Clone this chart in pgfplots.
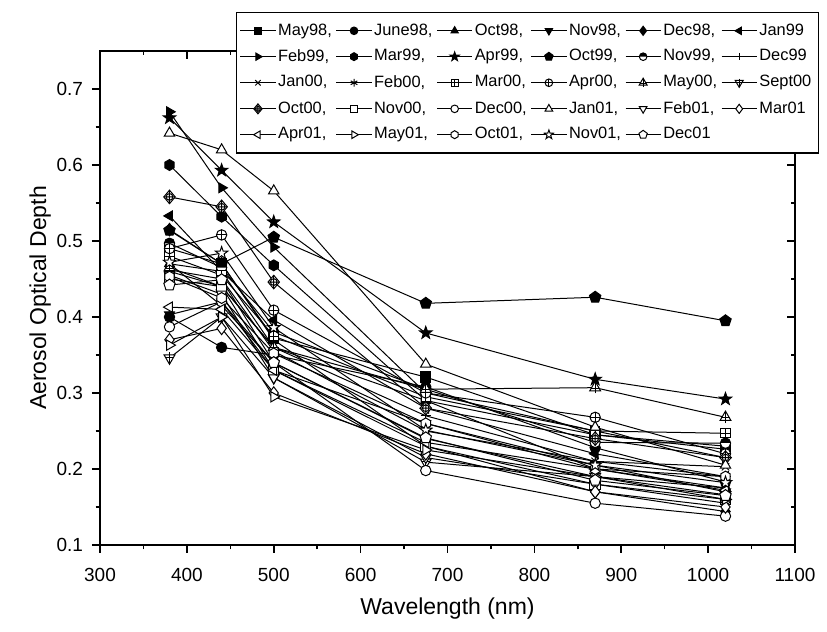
\documentclass[border=0pt]{standalone}
\usepackage{pgfplots}
\pgfplotsset{compat=1.18}
\usepackage{fontspec}
\setmainfont{Liberation Sans}
\usetikzlibrary{plotmarks,calc}

\pgfdeclareplotmark{hexa}{%
  \pgfpathmoveto{\pgfpointpolar{90}{1.05\pgfplotmarksize}}%
  \pgfpathlineto{\pgfpointpolar{150}{1.05\pgfplotmarksize}}%
  \pgfpathlineto{\pgfpointpolar{210}{1.05\pgfplotmarksize}}%
  \pgfpathlineto{\pgfpointpolar{270}{1.05\pgfplotmarksize}}%
  \pgfpathlineto{\pgfpointpolar{330}{1.05\pgfplotmarksize}}%
  \pgfpathlineto{\pgfpointpolar{30}{1.05\pgfplotmarksize}}%
  \pgfpathclose\pgfusepathqfillstroke}
\pgfdeclareplotmark{fstar}{%
  \pgfpathmoveto{\pgfpointpolar{90}{1.25\pgfplotmarksize}}%
  \pgfpathlineto{\pgfpointpolar{126}{0.5\pgfplotmarksize}}%
  \pgfpathlineto{\pgfpointpolar{162}{1.25\pgfplotmarksize}}%
  \pgfpathlineto{\pgfpointpolar{198}{0.5\pgfplotmarksize}}%
  \pgfpathlineto{\pgfpointpolar{234}{1.25\pgfplotmarksize}}%
  \pgfpathlineto{\pgfpointpolar{270}{0.5\pgfplotmarksize}}%
  \pgfpathlineto{\pgfpointpolar{306}{1.25\pgfplotmarksize}}%
  \pgfpathlineto{\pgfpointpolar{342}{0.5\pgfplotmarksize}}%
  \pgfpathlineto{\pgfpointpolar{18}{1.25\pgfplotmarksize}}%
  \pgfpathlineto{\pgfpointpolar{54}{0.5\pgfplotmarksize}}%
  \pgfpathclose\pgfusepathqfillstroke}
\pgfdeclareplotmark{sqplus}{%
  \pgfpathrectangle{\pgfpoint{-0.9\pgfplotmarksize}{-0.9\pgfplotmarksize}}{\pgfpoint{1.8\pgfplotmarksize}{1.8\pgfplotmarksize}}%
  \pgfusepathqfillstroke
  \pgfpathmoveto{\pgfpoint{-0.9\pgfplotmarksize}{0pt}}\pgfpathlineto{\pgfpoint{0.9\pgfplotmarksize}{0pt}}%
  \pgfpathmoveto{\pgfpoint{0pt}{-0.9\pgfplotmarksize}}\pgfpathlineto{\pgfpoint{0pt}{0.9\pgfplotmarksize}}%
  \pgfusepathqstroke}
\pgfdeclareplotmark{triplus}{%
  \pgfpathmoveto{\pgfpointpolar{90}{1.2\pgfplotmarksize}}%
  \pgfpathlineto{\pgfpointpolar{210}{1.2\pgfplotmarksize}}%
  \pgfpathlineto{\pgfpointpolar{330}{1.2\pgfplotmarksize}}%
  \pgfpathclose\pgfusepathqfillstroke
  \pgfpathmoveto{\pgfpoint{0pt}{-1.1\pgfplotmarksize}}\pgfpathlineto{\pgfpoint{0pt}{1.2\pgfplotmarksize}}%
  \pgfpathmoveto{\pgfpoint{-0.8\pgfplotmarksize}{-0.1\pgfplotmarksize}}\pgfpathlineto{\pgfpoint{0.8\pgfplotmarksize}{-0.1\pgfplotmarksize}}%
  \pgfusepathqstroke}
\pgfdeclareplotmark{dtriplus}{%
  \pgfpathmoveto{\pgfpointpolar{270}{1.2\pgfplotmarksize}}%
  \pgfpathlineto{\pgfpointpolar{30}{1.2\pgfplotmarksize}}%
  \pgfpathlineto{\pgfpointpolar{150}{1.2\pgfplotmarksize}}%
  \pgfpathclose\pgfusepathqfillstroke
  \pgfpathmoveto{\pgfpoint{0pt}{1.1\pgfplotmarksize}}\pgfpathlineto{\pgfpoint{0pt}{-1.2\pgfplotmarksize}}%
  \pgfpathmoveto{\pgfpoint{-0.8\pgfplotmarksize}{0.1\pgfplotmarksize}}\pgfpathlineto{\pgfpoint{0.8\pgfplotmarksize}{0.1\pgfplotmarksize}}%
  \pgfusepathqstroke}
\pgfdeclareplotmark{diaoplus}{%
  \pgfpathmoveto{\pgfpoint{0pt}{1.3\pgfplotmarksize}}%
  \pgfpathlineto{\pgfpoint{-1.1\pgfplotmarksize}{0pt}}%
  \pgfpathlineto{\pgfpoint{0pt}{-1.3\pgfplotmarksize}}%
  \pgfpathlineto{\pgfpoint{1.1\pgfplotmarksize}{0pt}}%
  \pgfpathclose\pgfusepathqfillstroke
  \pgfpathcircle{\pgfpoint{0pt}{0pt}}{0.65\pgfplotmarksize}%
  \pgfpathmoveto{\pgfpoint{-1.1\pgfplotmarksize}{0pt}}\pgfpathlineto{\pgfpoint{1.1\pgfplotmarksize}{0pt}}%
  \pgfpathmoveto{\pgfpoint{0pt}{-1.3\pgfplotmarksize}}\pgfpathlineto{\pgfpoint{0pt}{1.3\pgfplotmarksize}}%
  \pgfusepathqstroke}
\pgfdeclareplotmark{ocplus}{%
  \pgfpathcircle{\pgfpoint{0pt}{0pt}}{\pgfplotmarksize}%
  \pgfusepathqfillstroke
  \pgfpathmoveto{\pgfpoint{-\pgfplotmarksize}{0pt}}\pgfpathlineto{\pgfpoint{\pgfplotmarksize}{0pt}}%
  \pgfpathmoveto{\pgfpoint{0pt}{-\pgfplotmarksize}}\pgfpathlineto{\pgfpoint{0pt}{\pgfplotmarksize}}%
  \pgfusepathqstroke}

\begin{document}
\begin{tikzpicture}
\begin{axis}[
  name=frame,
  scale only axis, width=347.5pt, height=247pt,
  xmin=300, xmax=1100, ymin=0.1, ymax=0.75,
  xtick={300,400,500,600,700,800,900,1000,1100},
  ytick={0.1,0.2,0.3,0.4,0.5,0.6,0.7},
  minor x tick num=1, minor y tick num=1,
  tick align=inside, xtick pos=top, ytick pos=right,
  major tick length=4pt, minor tick length=2.2pt,
  every tick/.style={black, line width=0.8pt},
  axis line style={line width=0.9pt},
  xticklabels={}, yticklabels={},
]
\end{axis}
\begin{axis}[
  name=main,
  at={(frame.south west)}, anchor=south west,
  scale only axis, width=347.5pt, height=247pt,
  xmin=300, xmax=1100, ymin=0.1, ymax=0.75,
  xtick={300,400,500,600,700,800,900,1000,1100},
  ytick={0.1,0.2,0.3,0.4,0.5,0.6,0.7},
  minor x tick num=1, minor y tick num=1,
  tick align=outside, xtick pos=bottom, ytick pos=left,
  major tick length=4pt, minor tick length=2.2pt,
  every tick/.style={black, line width=0.8pt},
  axis line style={line width=0.9pt},
  /pgf/number format/assume math mode=true,
  yticklabel style={/pgf/number format/.cd, fixed, fixed zerofill, precision=1},
  xticklabel style={/pgf/number format/.cd, fixed, 1000 sep={}},
  xticklabel shift=4pt, yticklabel shift=1pt,
  tick label style={font=\fontsize{9.5}{11}\selectfont},
  xlabel={Wavelength (nm)}, ylabel={Aerosol Optical Depth},
  label style={font=\fontsize{11.5}{13}\selectfont},
  xlabel style={at={(axis description cs:0.5,-0.128)}, anchor=center},
  ylabel style={at={(axis description cs:-0.086,0.5)}, anchor=center},
  every axis plot/.append style={black, solid, line width=0.5pt, mark size=2.6pt},
  legend columns=6,
  legend cell align=left,
  legend style={at={(0.196,1.079)}, anchor=north west, draw=black, fill=white, line width=0.6pt,
    font=\fontsize{8.2}{10}\selectfont, inner xsep=1.5pt, inner ysep=3.5pt,
    row sep=1.6pt,
    /tikz/every even column/.append style={column sep=0pt},
    /tikz/every odd column/.append style={column sep=-1pt}},
  legend image post style={mark size=1.9pt},
  legend image code/.code={\draw[mark repeat=2,mark phase=2] plot coordinates {(0cm,0cm) (0.31cm,0cm) (0.62cm,0cm)};},
]
\addplot[mark=square*, mark options={solid, fill=black}] coordinates {(380,0.490) (440,0.470) (500,0.372) (675,0.321) (870,0.245) (1020,0.226)};
\addlegendentry{May98,}
\addplot[mark=*, mark options={solid, fill=black}] coordinates {(380,0.400) (440,0.360) (500,0.350) (675,0.308) (870,0.228) (1020,0.183)};
\addlegendentry{June98,}
\addplot[mark=triangle*, mark options={solid, fill=black, scale=1.1}] coordinates {(380,0.470) (440,0.460) (500,0.360) (675,0.290) (870,0.200) (1020,0.175)};
\addlegendentry{Oct98,}
\addplot[mark=triangle*, mark options={solid, fill=black, rotate=180, scale=1.1}] coordinates {(380,0.403) (440,0.420) (500,0.330) (675,0.260) (870,0.205) (1020,0.170)};
\addlegendentry{Nov98,}
\addplot[mark=diamond*, mark options={solid, fill=black, scale=1.2}] coordinates {(380,0.515) (440,0.470) (500,0.370) (675,0.230) (870,0.170) (1020,0.144)};
\addlegendentry{Dec98,}
\addplot[mark=triangle*, mark options={solid, fill=black, rotate=90, scale=1.1}] coordinates {(380,0.533) (440,0.460) (500,0.396) (675,0.280) (870,0.220) (1020,0.190)};
\addlegendentry{Jan99}
\addplot[mark=triangle*, mark options={solid, fill=black, rotate=-90, scale=1.1}] coordinates {(380,0.670) (440,0.570) (500,0.492) (675,0.300) (870,0.250) (1020,0.215)};
\addlegendentry{Feb99,}
\addplot[mark=hexa, mark options={solid, fill=black}] coordinates {(380,0.600) (440,0.532) (500,0.468) (675,0.290) (870,0.245) (1020,0.230)};
\addlegendentry{Mar99,}
\addplot[mark=fstar, mark options={solid, fill=black}] coordinates {(380,0.662) (440,0.593) (500,0.525) (675,0.379) (870,0.318) (1020,0.292)};
\addlegendentry{Apr99,}
\addplot[mark=pentagon*, mark options={solid, fill=black, scale=1.15}] coordinates {(380,0.514) (440,0.470) (500,0.505) (675,0.418) (870,0.426) (1020,0.395)};
\addlegendentry{Oct99,}
\addplot[mark=halfcircle*, mark options={solid, fill=black}] coordinates {(380,0.497) (440,0.465) (500,0.380) (675,0.305) (870,0.235) (1020,0.234)};
\addlegendentry{Nov99,}
\addplot[mark=+, mark options={solid}] coordinates {(380,0.460) (440,0.440) (500,0.360) (675,0.270) (870,0.210) (1020,0.190)};
\addlegendentry{Dec99}
\addplot[mark=x, mark options={solid}] coordinates {(380,0.462) (440,0.450) (500,0.355) (675,0.250) (870,0.210) (1020,0.203)};
\addlegendentry{Jan00,}
\addplot[mark=asterisk, mark options={solid}] coordinates {(380,0.470) (440,0.415) (500,0.340) (675,0.240) (870,0.190) (1020,0.175)};
\addlegendentry{Feb00,}
\addplot[mark=sqplus, mark options={solid, fill=white}] coordinates {(380,0.480) (440,0.455) (500,0.375) (675,0.295) (870,0.250) (1020,0.247)};
\addlegendentry{Mar00,}
\addplot[mark=ocplus, mark options={solid, fill=white}] coordinates {(380,0.490) (440,0.508) (500,0.409) (675,0.300) (870,0.268) (1020,0.220)};
\addlegendentry{Apr00,}
\addplot[mark=triplus, mark options={solid, fill=white}] coordinates {(380,0.465) (440,0.440) (500,0.360) (675,0.305) (870,0.307) (1020,0.268)};
\addlegendentry{May00,}
\addplot[mark=dtriplus, mark options={solid, fill=white}] coordinates {(380,0.346) (440,0.400) (500,0.320) (675,0.209) (870,0.190) (1020,0.166)};
\addlegendentry{Sept00}
\addplot[mark=diaoplus, mark options={solid, fill=white}] coordinates {(380,0.558) (440,0.545) (500,0.446) (675,0.280) (870,0.240) (1020,0.215)};
\addlegendentry{Oct00,}
\addplot[mark=square*, mark options={solid, fill=white}] coordinates {(380,0.450) (440,0.440) (500,0.330) (675,0.230) (870,0.180) (1020,0.160)};
\addlegendentry{Nov00,}
\addplot[mark=*, mark options={solid, fill=white}] coordinates {(380,0.387) (440,0.420) (500,0.340) (675,0.198) (870,0.155) (1020,0.138)};
\addlegendentry{Dec00,}
\addplot[mark=triangle*, mark options={solid, fill=white, scale=1.15}] coordinates {(380,0.642) (440,0.620) (500,0.566) (675,0.338) (870,0.255) (1020,0.205)};
\addlegendentry{Jan01,}
\addplot[mark=triangle*, mark options={solid, fill=white, rotate=180, scale=1.15}] coordinates {(380,0.455) (440,0.430) (500,0.320) (675,0.215) (870,0.180) (1020,0.155)};
\addlegendentry{Feb01,}
\addplot[mark=diamond*, mark options={solid, fill=white, scale=1.2}] coordinates {(380,0.370) (440,0.385) (500,0.300) (675,0.220) (870,0.170) (1020,0.150)};
\addlegendentry{Mar01}
\addplot[mark=triangle*, mark options={solid, fill=white, rotate=90, scale=1.15}] coordinates {(380,0.413) (440,0.410) (500,0.330) (675,0.235) (870,0.200) (1020,0.172)};
\addlegendentry{Apr01,}
\addplot[mark=triangle*, mark options={solid, fill=white, rotate=-90, scale=1.15}] coordinates {(380,0.363) (440,0.400) (500,0.295) (675,0.225) (870,0.190) (1020,0.160)};
\addlegendentry{May01,}
\addplot[mark=hexa, mark options={solid, fill=white}] coordinates {(380,0.453) (440,0.425) (500,0.352) (675,0.260) (870,0.200) (1020,0.190)};
\addlegendentry{Oct01,}
\addplot[mark=fstar, mark options={solid, fill=white}] coordinates {(380,0.472) (440,0.484) (500,0.386) (675,0.251) (870,0.205) (1020,0.182)};
\addlegendentry{Nov01,}
\addplot[mark=pentagon*, mark options={solid, fill=white, scale=1.15}] coordinates {(380,0.442) (440,0.449) (500,0.340) (675,0.241) (870,0.185) (1020,0.165)};
\addlegendentry{Dec01}
\end{axis}
\pgfresetboundingbox
\path[use as bounding box] ($(main.south west)+(-50pt,-43.5pt)$) rectangle ++(413.5pt,316pt);
\end{tikzpicture}
\end{document}
